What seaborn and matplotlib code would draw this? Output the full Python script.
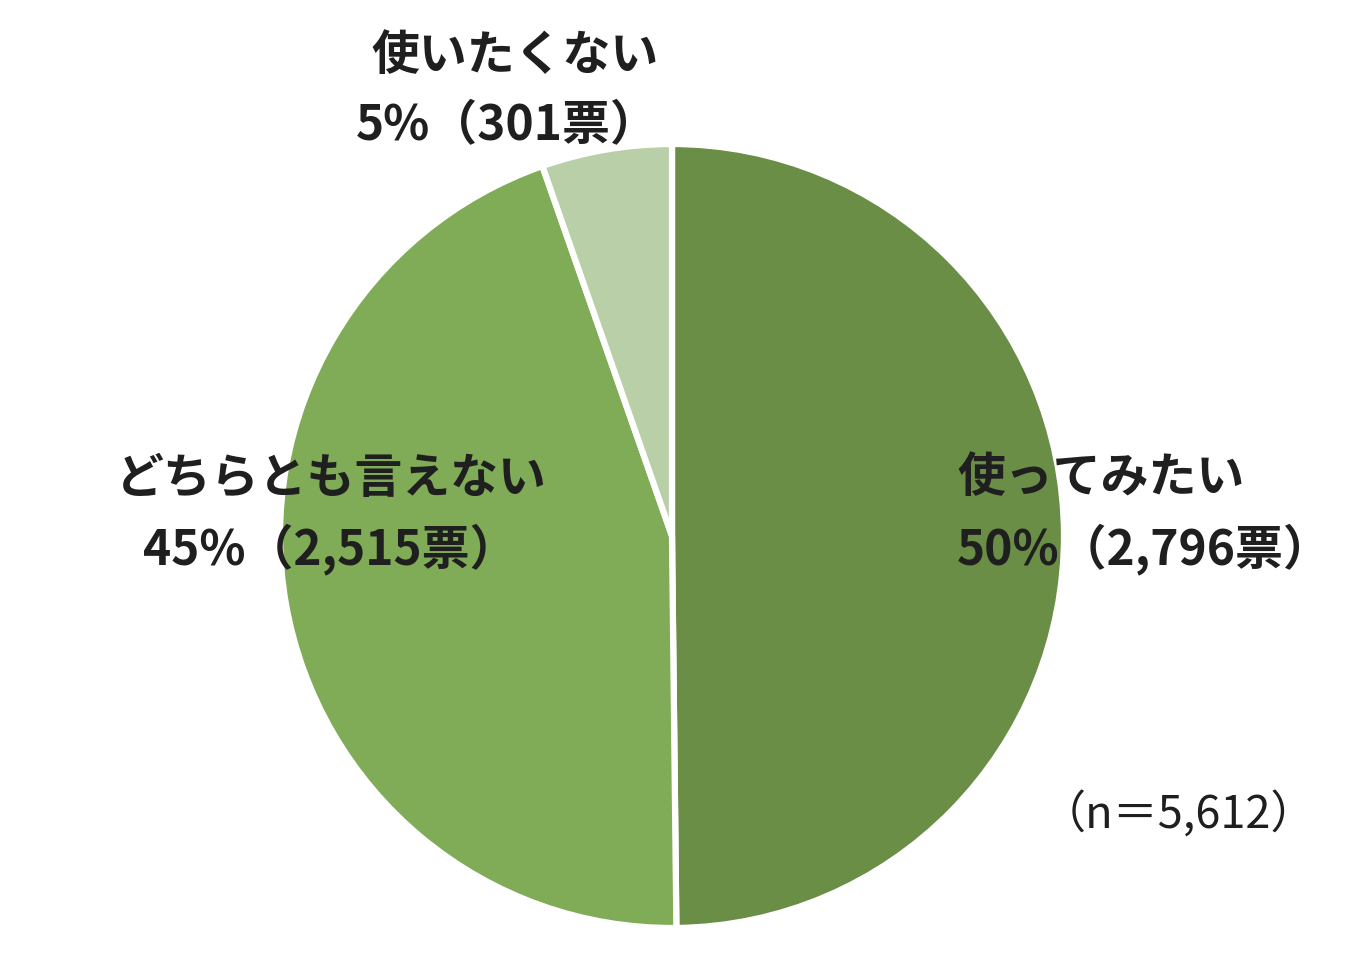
import matplotlib.pyplot as plt
import seaborn as sns

labels = ['使ってみたい', 'どちらとも言えない', '使いたくない']
votes = [2796, 2515, 301]
pcts = ['50%', '45%', '5%']
colors = ['#6a8e46', '#80ab57', '#b8cfa8']
total = 5612

sns.set_theme(style='white')
plt.rcParams['font.family'] = ['Noto Sans CJK JP', 'DejaVu Sans']

W, H = 1365, 954
fig = plt.figure(figsize=(W / 100, H / 100), dpi=100)
ax = fig.add_axes([0, 0, 1, 1])
ax.set_xlim(0, W)
ax.set_ylim(0, H)
ax.set_aspect('equal')
ax.axis('off')

# pie in pixel coords (y from bottom)
ax.pie(votes, colors=colors, startangle=90, counterclock=False,
       center=(672, H - 537), radius=392,
       wedgeprops=dict(edgecolor='white', linewidth=4.5))
ax.set_xlim(0, W)
ax.set_ylim(0, H)

txt = dict(fontsize=34.5, fontweight='bold', color='#1f1f1f', va='center')

def lbl(i):
    return f'{pcts[i]}（{votes[i]:,}票）'

# right label
ax.text(957, H - 478, labels[0], ha='left', **txt)
ax.text(957, H - 549, lbl(0), ha='left', **txt)
# left label
ax.text(331, H - 478, labels[1], ha='center', **txt)
ax.text(330, H - 549, lbl(1), ha='center', **txt)
# top label
ax.text(515, H - 55, labels[2], ha='center', **txt)
ax.text(507, H - 126, lbl(2), ha='center', **txt)

ax.text(1316, H - 815, f'（n＝{total:,}）', ha='right', va='center',
        fontsize=32.5, color='#1f1f1f')

fig.savefig('out.png', dpi=100, facecolor='white')
